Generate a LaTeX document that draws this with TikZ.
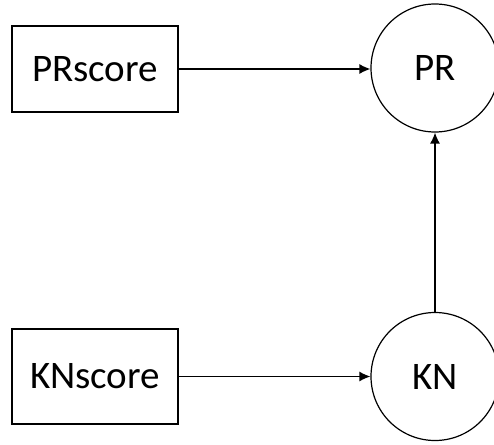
\documentclass[tikz,border=0pt]{standalone}
\usepackage{fontspec}
\setmainfont{Carlito}
\usetikzlibrary{arrows.meta}
\begin{document}
\begin{tikzpicture}[x=1pt,y=-1pt,
  scorebox/.style={draw, line width=1.2pt, inner sep=0pt, minimum width=166pt, font=\fontsize{39}{44}\selectfont},
  varnode/.style={draw, circle, line width=1.2pt, inner sep=0pt, minimum size=128pt, font=\fontsize{39}{44}\selectfont},
  link/.style={line width=1.3pt, -{Latex[length=11pt,width=10pt]}}]
  \useasboundingbox (0,0) rectangle (494,444);
  \clip (0,0) rectangle (494,444);
  \node[scorebox, minimum height=86pt] (prs) at (95,69) {PRscore};
  \node[scorebox, minimum height=95pt] (kns) at (95,376.5) {KNscore};
  \node[varnode] (pr) at (435,68) {PR};
  \node[varnode] (kn) at (435,376.5) {KN};
  \draw[link] (prs.east) -- (prs.east -| pr.west);
  \draw[link] (kns.east) -- (kn.west);
  \draw[link] (kn.north) -- (pr.south);
\end{tikzpicture}
\end{document}
